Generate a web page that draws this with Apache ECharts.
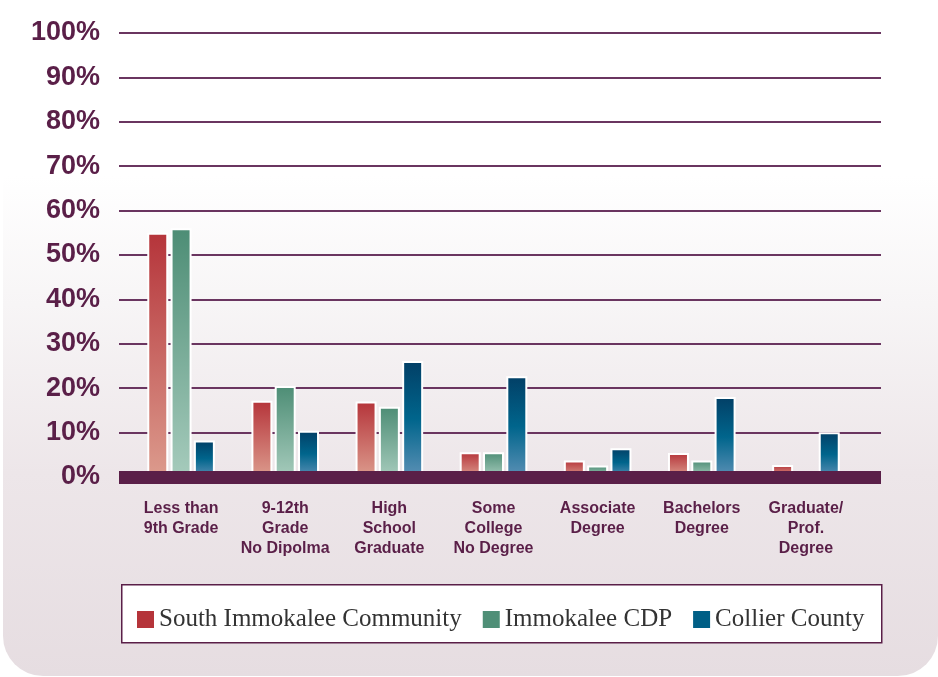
<!DOCTYPE html>
<html>
<head>
<meta charset="utf-8">
<script src="https://cdn.jsdelivr.net/npm/echarts@6/dist/echarts.min.js"></script>
<style>
html,body{margin:0;padding:0;background:#ffffff;}
#panel{position:absolute;left:3px;top:0;width:935px;height:676px;border-radius:0 0 40px 40px;
background:linear-gradient(to bottom,#ffffff 0%,#ffffff 26%,#f7f5f6 45%,#ede6e9 70%,#e6dde1 100%);}
#chart{position:absolute;left:0;top:0;width:938px;height:677px;}
</style>
</head>
<body>
<div id="panel"></div>
<div id="chart"></div>
<script>
var categories = ['Less than\n9th Grade','9-12th\nGrade\nNo Dipolma','High\nSchool\nGraduate','Some\nCollege\nNo Degree','Associate\nDegree','Bachelors\nDegree','Graduate/\nProf.\nDegree'];
var seriesNames = ['South Immokalee Community','Immokalee CDP','Collier County'];
var southImmokalee = [55.0, 17.2, 17.0, 5.6, 3.7, 5.4, 2.7];
var immokaleeCDP   = [56.0, 20.5, 15.8, 5.6, 2.6, 3.7, 0];
var collierCounty  = [8.2, 10.4, 26.1, 22.7, 6.5, 18.0, 10.1];
var yTicks = [0,10,20,30,40,50,60,70,80,90,100];

var purple = '#5a1f48';
function grad(stops){
  return {type:'linear',x:0,y:0,x2:0,y2:1,colorStops:stops};
}
var fills = [
  grad([{offset:0,color:'#b5343a'},{offset:1,color:'#dc9b8d'}]),
  grad([{offset:0,color:'#4d8d75'},{offset:1,color:'#a6cbbc'}]),
  grad([{offset:0,color:'#023f66'},{offset:0.5,color:'#00658c'},{offset:1,color:'#5b90b5'}])
];
var legendColors = ['#b5343a','#4f8f77','#005f86'];
var values = [southImmokalee, immokaleeCDP, collierCounty];

var chart = echarts.init(document.getElementById('chart'), null, {renderer:'canvas'});
var option = {
  backgroundColor:'transparent',
  animation:false,
  grid:[
    {left:119, right:57, top:33, bottom:200},
    {left:129, right:80, top:33, bottom:200}
  ],
  xAxis:[
    {type:'category', gridIndex:0, data:categories, z:10,
     axisLine:{show:true, lineStyle:{color:purple, width:13, cap:'butt'}},
     axisTick:{show:false}, axisLabel:{show:false}, splitLine:{show:false}},
    {type:'category', gridIndex:1, data:categories,
     axisLine:{show:false}, axisTick:{show:false}, splitLine:{show:false},
     axisLabel:{show:true, interval:0, margin:22, color:purple,
       fontFamily:'Liberation Sans, Arial, sans-serif', fontWeight:'bold', fontSize:16, lineHeight:20}}
  ],
  yAxis:[
    {type:'value', gridIndex:0, min:0, max:100, interval:10,
     axisLine:{show:false}, axisTick:{show:false},
     axisLabel:{formatter:'{value}%', margin:19, color:purple,
       fontFamily:'Liberation Sans, Arial, sans-serif', fontWeight:'bold', fontSize:27},
     splitLine:{show:true, lineStyle:{color:'#6a3560', width:2}}},
    {type:'value', gridIndex:1, min:0, max:100, interval:10, show:false,
     splitLine:{show:false}}
  ],
  legend:{
    left:132, top:602, itemWidth:17, itemHeight:17, itemGap:21, icon:'rect',
    textStyle:{fontFamily:'Liberation Serif, Times New Roman, serif', fontSize:25, color:'#333333'},
    data: seriesNames.map(function(n,i){return {name:n, itemStyle:{color:legendColors[i], borderWidth:0}};})
  },
  graphic:[
    {type:'rect', left:121, top:584, z:-1, silent:true,
     shape:{width:760, height:58}, style:{fill:'#ffffff', stroke:purple, lineWidth:1.5}}
  ],
  series: seriesNames.map(function(n,i){
    return {
      name:n, type:'bar', xAxisIndex:1, yAxisIndex:1,
      data: values[i], barWidth:21, barGap:'11%',
      itemStyle:{color:fills[i], borderColor:'#ffffff', borderWidth:2}
    };
  })
};
chart.setOption(option);
</script>
</body>
</html>
